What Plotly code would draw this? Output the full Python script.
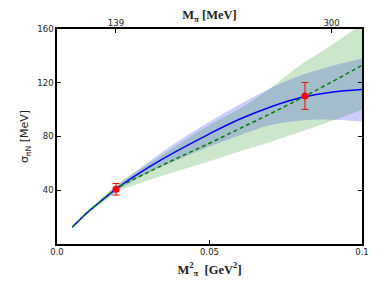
import plotly.graph_objects as go

# M_pi^2 grid [GeV^2]
msq = [0.005, 0.01, 0.015, 0.02, 0.03, 0.04, 0.05, 0.06, 0.07, 0.08, 0.09, 0.1]

# blue fit (solid) and its band
sigma_blue = [12.5, 23.5, 33, 42, 57, 70, 82, 93, 102, 109, 113, 115]
blue_hi = [12.8, 24.2, 34.2, 44, 61, 77, 91, 104, 116, 125.5, 132.5, 138]
blue_lo = [12.2, 22.8, 31.8, 40, 53, 63, 72.5, 81, 88.5, 92, 92.5, 91]

# green fit (dashed) and its band
sigma_green = [12.5, 23.5, 33, 42, 53.5, 64.5, 75, 86, 97, 108.5, 120.5, 133]
green_hi = [13, 24.5, 35, 45, 59.5, 74.5, 88.5, 101, 116, 133.5, 148, 164]
green_lo = [12, 22.5, 31, 39, 47.5, 54.5, 61.5, 69, 76, 83.5, 91.5, 100]

# lattice data points
data_msq = [0.01934, 0.0813]
data_sigma = [40.7, 110.2]
data_err = [4.3, 10]

# top axis (M_pi in MeV)
top_mev = [139, 300]
top_labels = ["139", "300"]

fig = go.Figure()

fig.add_trace(go.Scatter(x=msq, y=blue_lo, mode="lines", line=dict(width=0, shape="spline"),
                         showlegend=False, hoverinfo="skip"))
fig.add_trace(go.Scatter(x=msq, y=blue_hi, mode="lines", line=dict(width=0, shape="spline"),
                         fill="tonexty", fillcolor="rgba(0,0,255,0.2)", showlegend=False, hoverinfo="skip"))
fig.add_trace(go.Scatter(x=msq, y=green_lo, mode="lines", line=dict(width=0, shape="spline"),
                         showlegend=False, hoverinfo="skip"))
fig.add_trace(go.Scatter(x=msq, y=green_hi, mode="lines", line=dict(width=0, shape="spline"),
                         fill="tonexty", fillcolor="rgba(0,128,0,0.2)", showlegend=False, hoverinfo="skip"))

fig.add_trace(go.Scatter(x=msq, y=sigma_blue, mode="lines",
                         line=dict(color="#0000ff", width=1.5, shape="spline"), showlegend=False))
fig.add_trace(go.Scatter(x=msq, y=sigma_green, mode="lines",
                         line=dict(color="#008000", width=1.5, dash="4px,3px", shape="spline"), showlegend=False))

fig.add_trace(go.Scatter(x=data_msq, y=data_sigma, mode="markers",
                         marker=dict(color="#ff0000", size=7, symbol="circle"),
                         error_y=dict(type="data", array=data_err, color="#ff0000", thickness=1, width=3.5),
                         showlegend=False))

# invisible trace to activate top axis
fig.add_trace(go.Scatter(x=[0, 0.1], y=[0, 0], xaxis="x2", mode="markers",
                         marker=dict(opacity=0), showlegend=False, hoverinfo="skip"))

tickfont = dict(family="DejaVu Sans", size=8.5, color="#222222")

# the page body adds an 8px offset, so the figure is sized to fill the rest of the window
fig.update_layout(
    width=374, height=280,
    margin=dict(l=49, r=20, t=21, b=44, autoexpand=False),
    showlegend=False,
    paper_bgcolor="white", plot_bgcolor="white",
    xaxis=dict(range=[0, 0.1], tickvals=[0.0, 0.05, 0.1], ticktext=["0.0", "0.05", "0.1"],
               ticks="inside", ticklen=4, tickcolor="black", showgrid=False, zeroline=False,
               showline=True, linecolor="black", linewidth=1.5, mirror=True, automargin=False,
               tickfont=tickfont, ticklabelstandoff=-1,
               title=dict(text="<b>M<sup>2</sup><sub>π</sub>  [GeV<sup>2</sup>]</b>",
                          font=dict(family="Liberation Serif", size=12.5, color="#222222"), standoff=9)),
    xaxis2=dict(range=[0, 0.1], overlaying="x", side="top", automargin=False,
                tickvals=[(m / 1000.0) ** 2 for m in top_mev], ticktext=top_labels,
                ticks="inside", ticklen=4, tickcolor="black", showgrid=False, zeroline=False,
                showline=False, tickfont=tickfont,
                title=dict(text="<b>M<sub>π</sub> [MeV]</b>",
                           font=dict(family="Liberation Serif", size=12.5, color="#222222"), standoff=0)),
    yaxis=dict(range=[0, 160], tickvals=[40, 80, 120, 160], automargin=False,
               ticks="inside", ticklen=4, tickcolor="black", showgrid=False, zeroline=False,
               showline=True, linecolor="black", linewidth=1.5, mirror="ticks",
               tickfont=tickfont,
               title=dict(text="σ<sub>πN</sub> [MeV]",
                          font=dict(family="DejaVu Sans", size=11, color="#222222"), standoff=6)),
)

fig.write_html("out.html")
